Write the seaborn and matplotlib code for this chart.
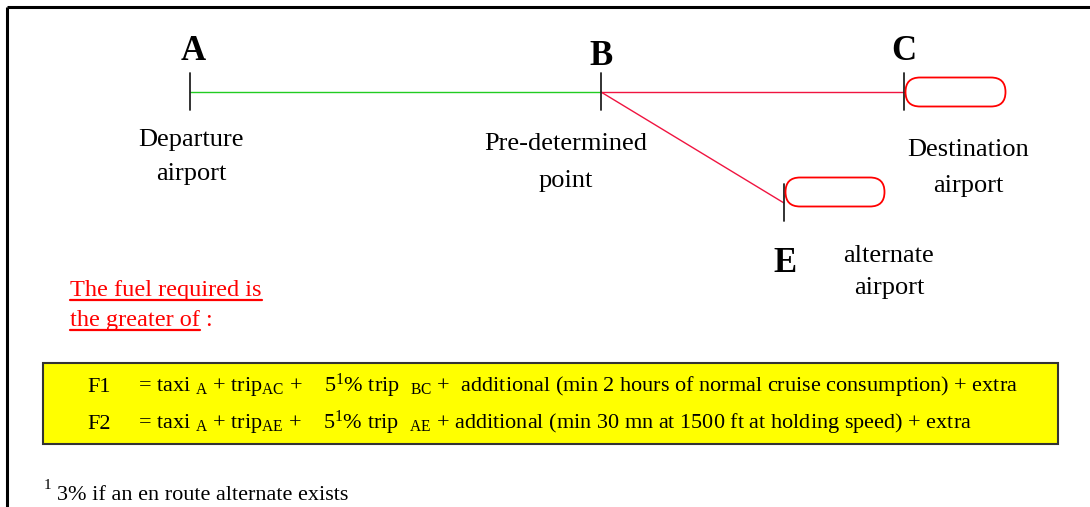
import matplotlib
matplotlib.use("Agg")
import matplotlib.pyplot as plt
import seaborn as sns
import pandas as pd
from matplotlib.patches import FancyBboxPatch

# ---------------- data ----------------
point_names = ["A", "B", "C", "E"]
point_x = [190, 601, 904, 784]
point_y = [92, 92, 92, 203]

route_green = ["A", "B"]
route_red = [["B", "C"], ["B", "E"]]

point_captions = {
    "A": ["Departure", "airport"],
    "B": ["Pre-determined", "point"],
    "C": ["Destination", "airport"],
    "E": ["alternate", "airport"],
}

heading_lines = ["The fuel required is", "the greater of"]
formula_labels = ["F1", "F2"]
formula_texts = [
    r"= taxi $_{\rm A}$ + trip$_{\rm AC}$ +    5$^{1}$% trip  $_{\rm BC}$ +  additional (min 2 hours of normal cruise consumption) + extra",
    r"= taxi $_{\rm A}$ + trip$_{\rm AE}$ +    5$^{1}$% trip  $_{\rm AE}$ + additional (min 30 mn at 1500 ft at holding speed) + extra",
]
footnote_mark = "1"
footnote_text = "3% if an en route alternate exists"

# ---------------- style ----------------
sns.set_style("white")
plt.rcParams["font.family"] = ["Liberation Serif", "DejaVu Serif"]
plt.rcParams["text.color"] = "black"
plt.rcParams["mathtext.fontset"] = "custom"
plt.rcParams["mathtext.rm"] = "Liberation Serif"
plt.rcParams["mathtext.it"] = "Liberation Serif:italic"
plt.rcParams["mathtext.bf"] = "Liberation Serif:bold"

fig = plt.figure(figsize=(10.9, 5.07), dpi=100)
ax = fig.add_axes([0, 0, 1, 1])
ax.set_xlim(0, 1090)
ax.set_ylim(507, 0)
ax.axis("off")

pts = pd.DataFrame({"name": point_names, "x": point_x, "y": point_y}).set_index("name")

# frame (top and left)
ax.plot([7, 1090], [7, 7], color="black", lw=2.2, solid_capstyle="butt")
ax.plot([7, 7], [7, 507], color="black", lw=2.2, solid_capstyle="butt")

# routes
seg = pts.loc[route_green].reset_index()
sns.lineplot(data=seg, x="x", y="y", sort=False, color="#22cc22", lw=1.0, ax=ax, estimator=None)
for r in route_red:
    seg = pts.loc[r].reset_index()
    sns.lineplot(data=seg, x="x", y="y", sort=False, color="#f01440", lw=1.0, ax=ax, estimator=None)

# ticks at points
for n in point_names:
    x, y = pts.loc[n, "x"], pts.loc[n, "y"]
    ax.plot([x, x], [y - 19, y + 18], color="#222222", lw=1.3)

# runways
for n, w in [("C", 100), ("E", 99)]:
    x, y = pts.loc[n, "x"], pts.loc[n, "y"]
    if n == "E":
        y = y - 11
    rw = FancyBboxPatch((x + 1.5, y - 14.5), w, 29,
                        boxstyle="round,pad=0,rounding_size=14.5",
                        fc="white", ec="#ff0000", lw=1.3, zorder=3)
    ax.add_patch(rw)

# point letters
letter_pos = {"A": (193, 60), "B": (601, 65), "C": (904, 60), "E": (785, 272)}
for n, (lx, ly) in letter_pos.items():
    ax.text(lx, ly, n, fontsize=25, fontweight="bold", ha="center", va="baseline")

# captions
caption_pos = {"A": (191, 146, 34), "B": (566, 150, 37), "C": (968, 156, 36), "E": (889, 262, 32)}
for n, (cx, cy, dy) in caption_pos.items():
    for i, line in enumerate(point_captions[n]):
        ax.text(cx, cy + i * dy, line, fontsize=19, ha="center", va="baseline")

# heading (red, underlined)
fig.canvas.draw()
renderer = fig.canvas.get_renderer()
inv = ax.transData.inverted()
head_y = [296, 326]
for i, line in enumerate(heading_lines):
    t = ax.text(70, head_y[i], line, fontsize=17.5, color="#ff0000", ha="left", va="baseline")
    bb = t.get_window_extent(renderer=renderer)
    (x0, _), (x1, _) = inv.transform([(bb.x0, bb.y0), (bb.x1, bb.y1)])
    ax.plot([x0, x1], [head_y[i] + 3.5, head_y[i] + 3.5], color="#ff0000", lw=1.6)
    if i == 1:
        ax.text(x1 + 5, head_y[i], ":", fontsize=17.5, color="#ff0000", ha="left", va="baseline")

# yellow box
box = plt.Rectangle((43, 363), 1015, 81, fc="#ffff00", ec="#333333", lw=1.5, zorder=1)
ax.add_patch(box)
form_y = [392, 429]
for i in range(2):
    ax.text(87, form_y[i], formula_labels[i], fontsize=16, ha="left", va="baseline", zorder=2)
    ax.text(138, form_y[i], formula_texts[i], fontsize=16, ha="left", va="baseline", zorder=2)

# footnote
ax.text(44, 489, footnote_mark, fontsize=11, ha="left", va="baseline")
ax.text(57, 500, footnote_text, fontsize=16, ha="left", va="baseline")

fig.savefig("out.png", dpi=100, facecolor="white")
